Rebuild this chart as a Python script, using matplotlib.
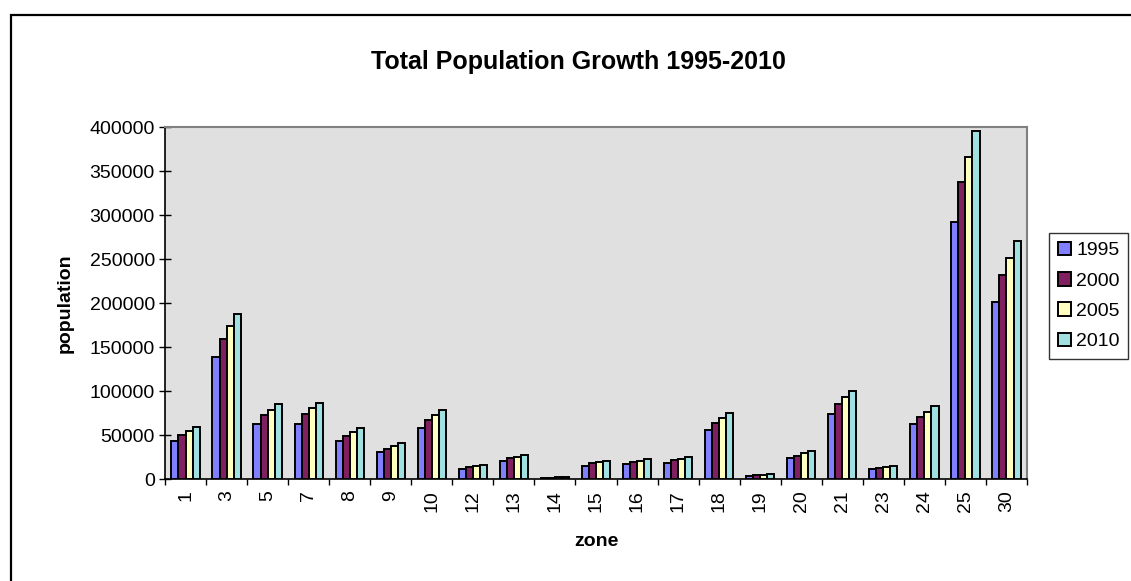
import numpy as np
import matplotlib.pyplot as plt
from matplotlib.patches import Rectangle

plt.rcParams['font.family'] = ['Liberation Sans', 'DejaVu Sans']

# zones and population per year
zones = ['1', '3', '5', '7', '8', '9', '10', '12', '13', '14', '15',
         '16', '17', '18', '19', '20', '21', '23', '24', '25', '30']
years = ['1995', '2000', '2005', '2010']
pop_1995 = [43500, 138500, 63000, 62000, 43000, 30500, 57500, 11500, 21000, 1500, 15000,
            16500, 18000, 55500, 3800, 23500, 74000, 11000, 62000, 292500, 201000]
pop_2000 = [50000, 159500, 72500, 74000, 49000, 34500, 66500, 14000, 23500, 1700, 18000,
            19500, 21500, 63500, 4500, 26500, 85500, 13000, 71000, 337000, 231500]
pop_2005 = [54000, 173500, 78500, 80500, 53500, 37500, 72500, 15000, 25500, 1900, 19500,
            20500, 23000, 69500, 5000, 29500, 93000, 14000, 76500, 366300, 251000]
pop_2010 = [59000, 187500, 85000, 86500, 57500, 40500, 78000, 15500, 27500, 2000, 20500,
            22500, 25000, 75000, 5300, 31500, 99500, 15000, 82500, 395000, 271000]
series = [pop_1995, pop_2000, pop_2005, pop_2010]
colors = ['#8080FF', '#802060', '#FFFFC0', '#A0E0E0']

W, H = 1131, 581
fig = plt.figure(figsize=(W / 100, H / 100), dpi=100)
ax = fig.add_axes([165 / W, 1 - 479 / H, 862 / W, 352 / H])
ax.set_facecolor('#E0E0E0')

x = np.arange(len(zones))
bw = 0.172
for i, (vals, c) in enumerate(zip(series, colors)):
    ax.bar(x + (i - 1.5) * bw, vals, width=bw, color=c, edgecolor='black',
           linewidth=1.4, label=years[i], zorder=3)

ax.set_xlim(-0.5, len(zones) - 0.5)
ax.set_ylim(0, 400000)
ax.set_yticks(np.arange(0, 400001, 50000))
ax.set_yticklabels([str(v) for v in range(0, 400001, 50000)], fontsize=14)

# labels centred under bars, ticks between categories
ax.set_xticks(x)
ax.set_xticklabels(zones, rotation=90, fontsize=14)
ax.tick_params(axis='x', which='major', length=0, pad=8)
ax.set_xticks(np.arange(-0.5, len(zones), 1), minor=True)
ax.tick_params(axis='x', which='minor', direction='out', length=4.5, width=1)
ax.tick_params(axis='y', direction='inout', length=8.5, width=1, pad=3)

for side in ['top', 'right']:
    ax.spines[side].set_color('#808080')
    ax.spines[side].set_linewidth(1.5)
for side in ['left', 'bottom']:
    ax.spines[side].set_color('black')
    ax.spines[side].set_linewidth(1.2)

ax.set_ylabel('population', fontsize=14, fontweight='bold')
ax.yaxis.set_label_coords(-0.106, 0.5)
ax.set_xlabel('zone', fontsize=14, fontweight='bold')
ax.xaxis.set_label_coords(0.5, -0.152)

fig.text(578 / W, 1 - 62 / H, 'Total Population Growth 1995-2010',
         fontsize=18, fontweight='bold', ha='center', va='center')

leg = ax.legend(loc='upper left', bbox_to_anchor=(1049 / W, 1 - 233 / H),
                bbox_transform=fig.transFigure, fontsize=14, frameon=True,
                fancybox=False, edgecolor='black', handlelength=0.7,
                handleheight=0.7, handletextpad=0.25, labelspacing=0.65,
                borderpad=0.45, borderaxespad=0)
leg.get_frame().set_linewidth(1)

# outer chart frame (only top and left edges visible in the image)
fig.patches.append(Rectangle((11 / W, -0.2), 2, 1.2 - 15 / H, transform=fig.transFigure,
                             fill=False, edgecolor='black', linewidth=1.6))

fig.savefig('out.png', dpi=100)
